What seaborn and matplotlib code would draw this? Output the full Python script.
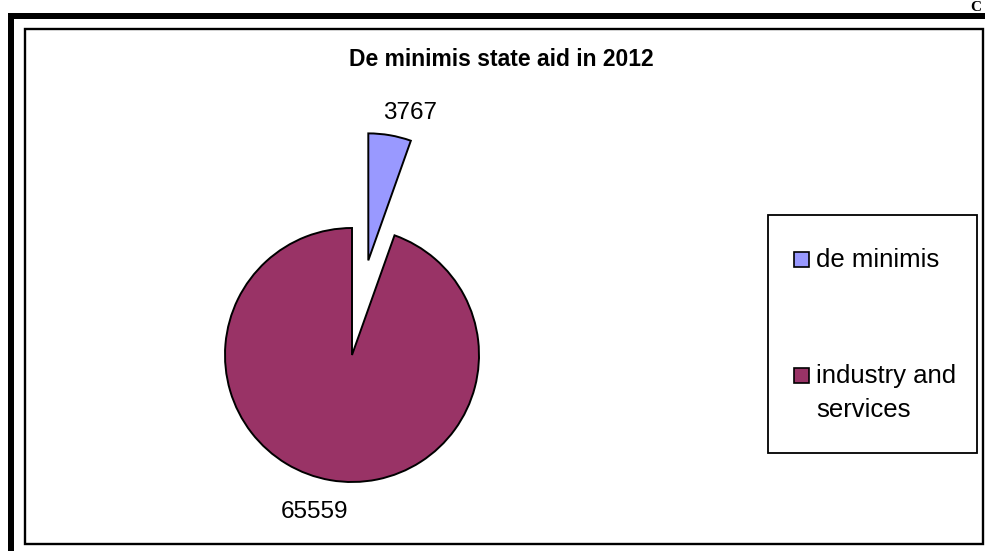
import matplotlib
matplotlib.use("Agg")
import matplotlib.pyplot as plt
from matplotlib.patches import Rectangle
import numpy as np
import seaborn as sns

# ---- data ----
categories = ["de minimis", "industry and\nservices"]
values = [3767, 65559]
colors = ["#9999FF", "#993366"]
title = "De minimis state aid in 2012"

sns.set_theme(style="white")
plt.rcParams["font.family"] = ["Liberation Sans", "DejaVu Sans"]

W, H = 985, 551
fig = plt.figure(figsize=(W / 100, H / 100), dpi=100)
fig.patch.set_facecolor("white")
ax = fig.add_axes([0, 0, 1, 1])


def py(y):
    """Convert a top-down pixel row into the axes' bottom-up coordinate."""
    return H - y


# ---- pie (pixel units: centre, radius and explode offset) ----
radius = 127
center = (352, py(355))
explode = [96, 0]
wedges, _ = ax.pie(
    values,
    colors=colors,
    startangle=90,
    counterclock=False,
    radius=radius,
    center=center,
    explode=explode,
    wedgeprops=dict(edgecolor="black", linewidth=1.4),
)
ax.set_xlim(0, W)
ax.set_ylim(0, H)
ax.set_aspect("auto")
ax.set_axis_off()

# value labels
label_pos = [(410, 119), (315, 518)]
for v, (lx, ly) in zip(values, label_pos):
    ax.text(lx, py(ly), f"{v}", ha="center", va="baseline",
            fontsize=17.5, color="black")

# title
ax.text(501, py(65.5), title, ha="center", va="baseline",
        fontsize=16.5, fontweight="bold", color="black")

# ---- legend box ----
ax.add_patch(Rectangle((768, py(453)), 977 - 768, 453 - 215,
                       facecolor="none", edgecolor="black", linewidth=1.3))
legend_rows = [252, 368]
for w, cat, top in zip(wedges, categories, legend_rows):
    ax.add_patch(Rectangle((794, py(top + 15)), 15, 15,
                           facecolor=w.get_facecolor(), edgecolor="black",
                           linewidth=1.2))
    for i, line in enumerate(cat.split("\n")):
        ax.text(816, py(top + 15 + i * 34), line, ha="left", va="baseline",
                fontsize=18.5, color="black")

# ---- page frame ----
ax.add_patch(Rectangle((8, py(19)), W - 8 + 5, 6, facecolor="black",
                       edgecolor="none"))
ax.add_patch(Rectangle((8, py(H + 5)), 6, H + 5 - 13, facecolor="black",
                       edgecolor="none"))
ax.add_patch(Rectangle((24.5, py(544)), 983 - 24.5, 544 - 29,
                       facecolor="none", edgecolor="black", linewidth=1.7))

# heading letter at the page corner
ax.text(970, py(11), "C", ha="left", va="baseline", fontsize=11,
        fontweight="bold", family=["Liberation Serif", "DejaVu Serif"],
        color="black")

fig.savefig("out.png", dpi=100, facecolor="white")
